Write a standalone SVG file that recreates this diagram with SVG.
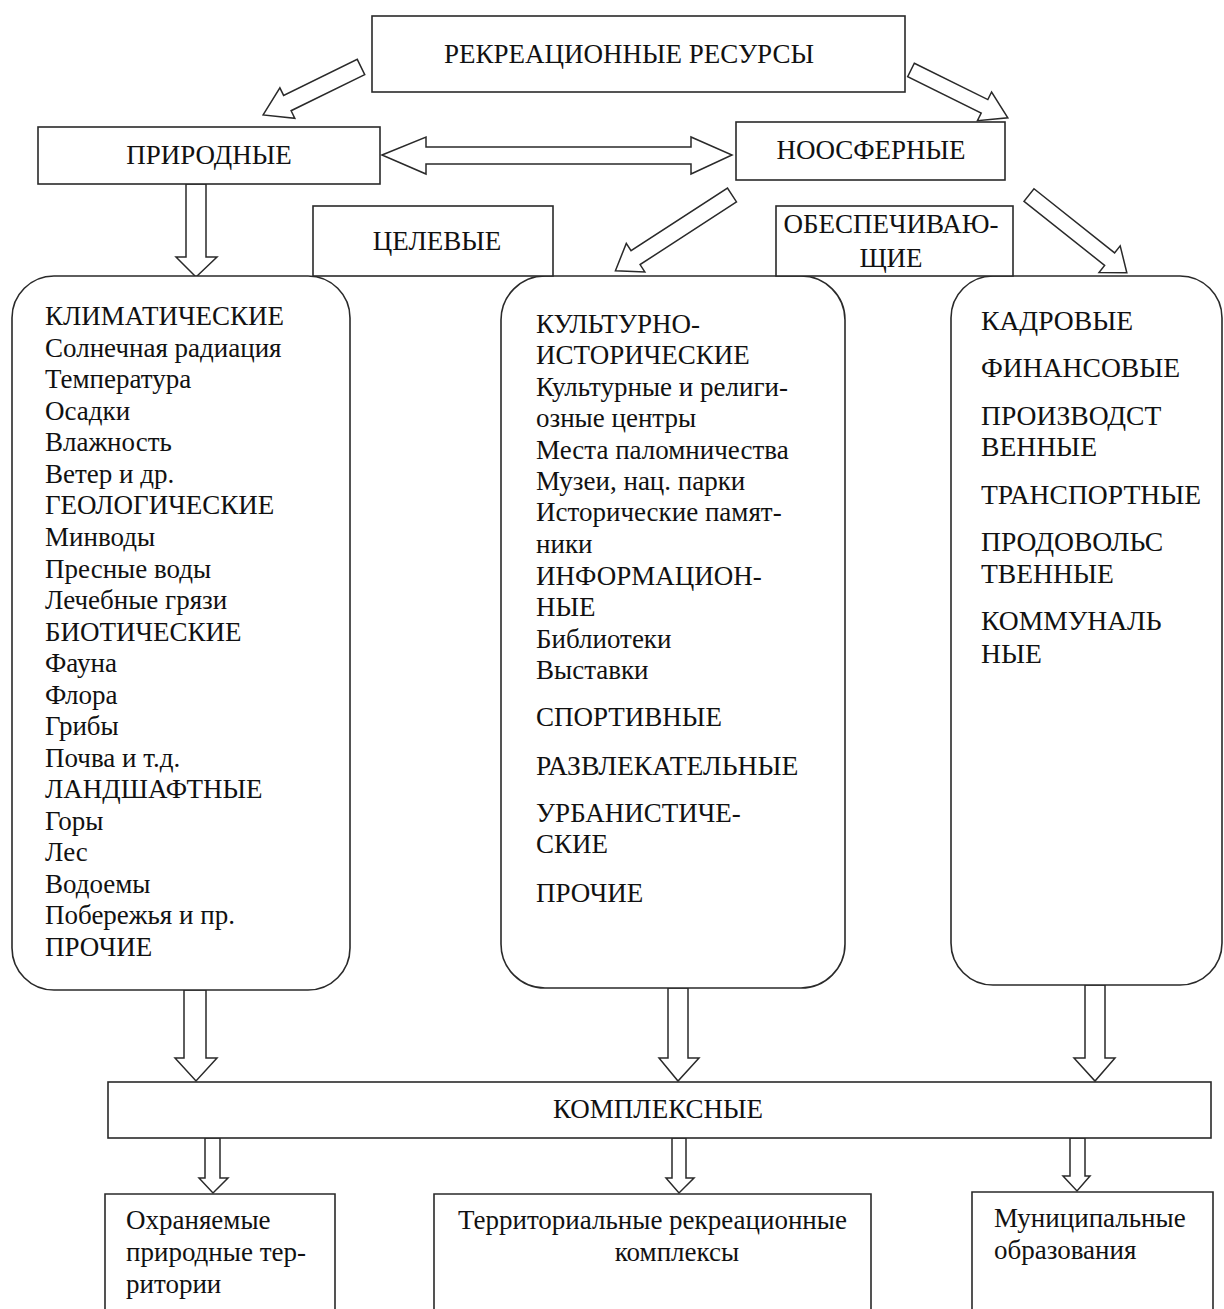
<svg xmlns="http://www.w3.org/2000/svg" width="1224" height="1309" viewBox="0 0 1224 1309">
<style>
.box{fill:#fff;stroke:#2a2a2a;stroke-width:1.6}
.arr{fill:#fff;stroke:#2a2a2a;stroke-width:1.5;stroke-linejoin:miter}
text{font-family:"Liberation Serif","Times New Roman",serif;font-size:27px;fill:#111}
.c{text-anchor:middle}
.w{font-size:27.6px}
</style>
<rect width="1224" height="1309" fill="#fff"/>
<g id="connectors">
<polygon class="arr" transform="translate(361,67) rotate(153.9)" points="0,-8.5 82,-8.5 82,-17 109,0 82,17 82,8.5 0,8.5"/>
<polygon class="arr" transform="translate(911,70) rotate(26.3)" points="0,-7.5 82,-7.5 82,-16 108,0 82,16 82,7.5 0,7.5"/>
<polygon class="arr" transform="translate(732,195) rotate(147)" points="0,-8.3 115,-8.3 115,-17 139,0 115,17 115,8.3 0,8.3"/>
<polygon class="arr" transform="translate(1029,195) rotate(38.5)" points="0,-8 103,-8 103,-17 125,0 103,17 103,8 0,8"/>
<polygon class="arr" points="382,155 426,137 426,147 691,147 691,137 732,155 691,174 691,164 426,164 426,174"/>
<polygon class="arr" points="186,184 206,184 206,257 217,257 196,277 176,257 186,257"/>
<polygon class="arr" points="184,990 206,990 206,1058 217,1058 196,1081 175,1058 184,1058"/>
<polygon class="arr" points="668,988 688,988 688,1058 699,1058 678,1081 659,1058 668,1058"/>
<polygon class="arr" points="1085,985 1105,985 1105,1058 1115,1058 1095,1081 1074,1058 1085,1058"/>
<polygon class="arr" points="205,1138 220,1138 220,1178 228,1178 213,1193 199,1178 205,1178"/>
<polygon class="arr" points="672,1138 686,1138 686,1178 694,1178 679,1193 666,1178 672,1178"/>
<polygon class="arr" points="1070,1138 1085,1138 1085,1176 1090,1176 1077,1191 1063,1176 1070,1176"/>
</g>
<g id="node-recreational">
<rect class="box" x="372" y="16" width="533" height="76"/>
<text class="c" x="629" y="63">РЕКРЕАЦИОННЫЕ РЕСУРСЫ</text>
</g>
<g id="node-natural">
<rect class="box" x="38" y="127" width="342" height="57"/>
<text class="c" x="209" y="164">ПРИРОДНЫЕ</text>
</g>
<g id="node-noosphere">
<rect class="box" x="736" y="122" width="269" height="58"/>
<text class="c" x="871" y="159">НООСФЕРНЫЕ</text>
</g>
<g id="node-natural-list">
<path class="box" d="M54,276 H308 A42,42 0 0 1 350,318 V948 A42,42 0 0 1 308,990 H54 A42,42 0 0 1 12,948 V318 A42,42 0 0 1 54,276 Z"/>
<text x="45" y="325">КЛИМАТИЧЕСКИЕ</text>
<text x="45" y="356.5">Солнечная радиация</text>
<text x="45" y="388">Температура</text>
<text x="45" y="419.5">Осадки</text>
<text x="45" y="451">Влажность</text>
<text x="45" y="483">Ветер и др.</text>
<text x="45" y="514">ГЕОЛОГИЧЕСКИЕ</text>
<text x="45" y="546">Минводы</text>
<text x="45" y="577.5">Пресные воды</text>
<text x="45" y="609">Лечебные грязи</text>
<text x="45" y="640.5">БИОТИЧЕСКИЕ</text>
<text x="45" y="672">Фауна</text>
<text x="45" y="703.5">Флора</text>
<text x="45" y="735">Грибы</text>
<text x="45" y="766.5">Почва и т.д.</text>
<text x="45" y="798">ЛАНДШАФТНЫЕ</text>
<text x="45" y="829.5">Горы</text>
<text x="45" y="861">Лес</text>
<text x="45" y="892.5">Водоемы</text>
<text x="45" y="924">Побережья и пр.</text>
<text x="45" y="956">ПРОЧИЕ</text>
</g>
<g id="node-target-list">
<path class="box" d="M545,276 H801 A44,44 0 0 1 845,320 V944 A44,44 0 0 1 801,988 H545 A44,44 0 0 1 501,944 V320 A44,44 0 0 1 545,276 Z"/>
<text x="536" y="333">КУЛЬТУРНО-</text>
<text x="536" y="364">ИСТОРИЧЕСКИЕ</text>
<text x="536" y="395.5">Культурные и религи-</text>
<text x="536" y="427">озные центры</text>
<text x="536" y="458.5">Места паломничества</text>
<text x="536" y="489.5">Музеи, нац. парки</text>
<text x="536" y="521">Исторические памят-</text>
<text x="536" y="552.5">ники</text>
<text x="536" y="585">ИНФОРМАЦИОН-</text>
<text x="536" y="615.5">НЫЕ</text>
<text x="536" y="647.5">Библиотеки</text>
<text x="536" y="679">Выставки</text>
<text x="536" y="726">СПОРТИВНЫЕ</text>
<text class="w" x="536" y="775">РАЗВЛЕКАТЕЛЬНЫЕ</text>
<text x="536" y="822">УРБАНИСТИЧЕ-</text>
<text x="536" y="853">СКИЕ</text>
<text x="536" y="902">ПРОЧИЕ</text>
</g>
<g id="node-support-list">
<path class="box" d="M993,276 H1180 A42,42 0 0 1 1222,318 V943 A42,42 0 0 1 1180,985 H993 A42,42 0 0 1 951,943 V318 A42,42 0 0 1 993,276 Z"/>
<text class="w" x="981" y="330">КАДРОВЫЕ</text>
<text class="w" x="981" y="377">ФИНАНСОВЫЕ</text>
<text class="w" x="981" y="425">ПРОИЗВОДСТ</text>
<text class="w" x="981" y="456">ВЕННЫЕ</text>
<text class="w" x="981" y="504">ТРАНСПОРТНЫЕ</text>
<text class="w" x="981" y="551">ПРОДОВОЛЬС</text>
<text class="w" x="981" y="583">ТВЕННЫЕ</text>
<text class="w" x="981" y="630">КОММУНАЛЬ</text>
<text class="w" x="981" y="663">НЫЕ</text>
</g>
<g id="node-target">
<rect class="box" x="313" y="206" width="240" height="70"/>
<text class="c" x="437" y="250">ЦЕЛЕВЫЕ</text>
</g>
<g id="node-support">
<rect class="box" x="776" y="206" width="237" height="70"/>
<text class="c" x="891" y="233">ОБЕСПЕЧИВАЮ-</text>
<text class="c" x="891" y="267">ЩИЕ</text>
</g>
<g id="node-complex">
<rect class="box" x="108" y="1082" width="1103" height="56"/>
<text class="c" x="658" y="1118">КОМПЛЕКСНЫЕ</text>
</g>
<g id="node-protected">
<path class="box" d="M105,1320 V1194 H335 V1320"/>
<text x="126" y="1229">Охраняемые</text>
<text x="126" y="1261">природные тер-</text>
<text x="126" y="1293">ритории</text>
</g>
<g id="node-trk">
<path class="box" d="M434,1320 V1194 H871 V1320"/>
<text x="458" y="1229">Территориальные рекреационные</text>
<text class="c" x="677" y="1261">комплексы</text>
</g>
<g id="node-municipal">
<path class="box" d="M972,1320 V1192 H1213 V1320"/>
<text x="994" y="1227">Муниципальные</text>
<text x="994" y="1259">образования</text>
</g>
</svg>
